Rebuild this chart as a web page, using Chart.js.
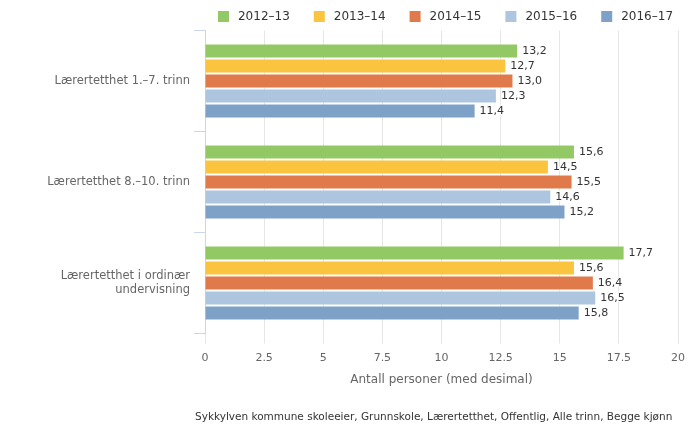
<!DOCTYPE html>
<html>
<head>
<meta charset="utf-8">
<script src="https://cdn.jsdelivr.net/npm/chart.js@4/dist/chart.umd.min.js"></script>
<style>
  html, body { margin: 0; padding: 0; background: #fff; }
  #wrap { width: 700px; height: 448px; position: relative; }
</style>
</head>
<body>
<div id="wrap"><canvas id="chart"></canvas></div>
<script>
// Data
const categories = [
    'Lærertetthet 1.–7. trinn',
    'Lærertetthet 8.–10. trinn',
    ['Lærertetthet i ordinær', 'undervisning']
];
const seasons = ['2012–13', '2013–14', '2014–15', '2015–16', '2016–17'];
const v2012 = [13.2, 15.6, 17.7];
const v2013 = [12.7, 14.5, 15.6];
const v2014 = [13.0, 15.5, 16.4];
const v2015 = [12.3, 14.6, 16.5];
const v2016 = [11.4, 15.2, 15.8];
const xTicks = [0, 2.5, 5, 7.5, 10, 12.5, 15, 17.5, 20];
const axisTitle = 'Antall personer (med desimal)';
const credit = 'Sykkylven kommune skoleeier, Grunnskole, Lærertetthet, Offentlig, Alle trinn, Begge kjønn';

const colors = ['#92c965', '#fbc43e', '#e07a4b', '#adc5de', '#7ea1c8'];
const FONT = '"DejaVu Sans", Verdana, sans-serif';

const seriesValues = [v2012, v2013, v2014, v2015, v2016];

// legend, value labels and credit text
const extras = {
    id: 'extras',
    afterDatasetsDraw(chart) {
        const ctx = chart.ctx;
        ctx.save();
        // value labels
        ctx.font = '11px ' + FONT;
        ctx.textBaseline = 'middle';
        ctx.textAlign = 'left';
        chart.data.datasets.forEach((ds, i) => {
            chart.getDatasetMeta(i).data.forEach((bar, j) => {
                const txt = ds.data[j].toFixed(1).replace('.', ',');
                ctx.lineWidth = 2;
                ctx.strokeStyle = '#fff';
                ctx.strokeText(txt, bar.x + 5, bar.y);
                ctx.fillStyle = '#333';
                ctx.fillText(txt, bar.x + 5, bar.y);
            });
        });

        // legend, centred over the plot area
        ctx.font = '12px ' + FONT;
        const box = 11, gapText = 9, gapItem = 24;
        const widths = seasons.map(s => box + gapText + ctx.measureText(s).width);
        const total = widths.reduce((a, b) => a + b, 0) + gapItem * (seasons.length - 1);
        const area = chart.chartArea;
        let x = (area.left + area.right) / 2 - total / 2 + 4;
        const ly = 16.5;
        seasons.forEach((s, i) => {
            ctx.fillStyle = colors[i];
            ctx.fillRect(x, ly - box / 2, box, box);
            ctx.fillStyle = '#333';
            ctx.fillText(s, x + box + gapText, ly);
            x += widths[i] + gapItem;
        });

        // credit
        ctx.font = '10.5px ' + FONT;
        ctx.fillStyle = '#333';
        ctx.fillText(credit, 195, 417);
        ctx.restore();
    }
};

new Chart(document.getElementById('chart'), {
    type: 'bar',
    data: {
        labels: categories,
        datasets: seriesValues.map((vals, i) => ({
            label: seasons[i],
            data: vals,
            backgroundColor: colors[i],
            borderWidth: 0,
            categoryPercentage: 0.743,
            barPercentage: 0.867
        }))
    },
    options: {
        indexAxis: 'y',
        responsive: true,
        maintainAspectRatio: false,
        animation: false,
        events: [],
        layout: { padding: { top: 30.5, right: 22, bottom: 60.8, left: 0 } },
        plugins: {
            legend: { display: false },
            tooltip: { enabled: false }
        },
        scales: {
            x: {
                min: 0,
                max: 20,
                afterBuildTicks: (scale) => { scale.ticks = xTicks.map(v => ({ value: v })); },
                afterFit: (scale) => { scale.height = 53.7; },
                ticks: {
                    color: '#666',
                    font: { family: FONT, size: 11 },
                    padding: 8,
                    maxRotation: 0,
                    callback: (v) => String(v)
                },
                grid: { color: '#e6e6e6', tickLength: 10, tickColor: '#e6e6e6' },
                border: { display: false },
                title: {
                    display: true,
                    text: axisTitle,
                    color: '#666',
                    font: { family: FONT, size: 12 },
                    padding: { top: 8, bottom: 0 }
                }
            },
            y: {
                afterFit: (scale) => { scale.width = 205; },
                ticks: {
                    color: '#666',
                    font: { family: FONT, size: 11.5, lineHeight: 1.2 },
                    padding: 4
                },
                grid: {
                    drawOnChartArea: false,
                    tickLength: 11,
                    tickColor: '#ccd6eb',
                    offset: true
                },
                border: { color: '#ccd6eb', width: 1 }
            }
        }
    },
    plugins: [extras]
});
</script>
</body>
</html>
